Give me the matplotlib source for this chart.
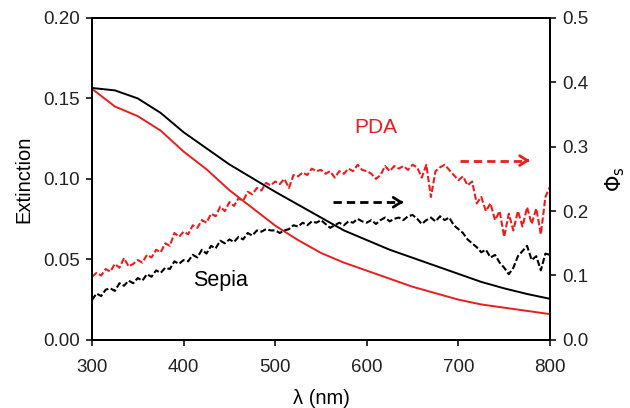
import numpy as np
import matplotlib
matplotlib.use("Agg")
import matplotlib.pyplot as plt

plt.rcParams["font.family"] = ["Liberation Sans", "DejaVu Sans"]

# Extinction spectra (left axis), 25 nm steps
WL_EXT = np.arange(300, 801, 25)
EXT_SEPIA = [0.1565, 0.155, 0.150, 0.141, 0.129, 0.119, 0.109, 0.1005, 0.092,
             0.084, 0.076, 0.068, 0.062, 0.056, 0.051, 0.046, 0.041, 0.036,
             0.032, 0.0285, 0.0255]
EXT_PDA = [0.156, 0.145, 0.139, 0.130, 0.117, 0.106, 0.093, 0.082, 0.071,
           0.062, 0.054, 0.048, 0.043, 0.038, 0.033, 0.029, 0.025, 0.022,
           0.020, 0.018, 0.016]

# Phi_s (right axis), 5 nm steps
WL_PHI = np.arange(300, 801, 5)
PHI_PDA = [
    0.098, 0.104, 0.100, 0.110, 0.106, 0.118, 0.112, 0.127, 0.114, 0.118,
    0.124, 0.120, 0.132, 0.128, 0.140, 0.136, 0.150, 0.146, 0.166, 0.160,
    0.168, 0.164, 0.178, 0.174, 0.186, 0.182, 0.196, 0.192, 0.207, 0.200,
    0.214, 0.208, 0.220, 0.216, 0.230, 0.226, 0.236, 0.232, 0.244, 0.240,
    0.246, 0.242, 0.250, 0.236, 0.256, 0.254, 0.260, 0.256, 0.266, 0.262,
    0.264, 0.258, 0.262, 0.252, 0.262, 0.258, 0.266, 0.262, 0.272, 0.264,
    0.262, 0.258, 0.250, 0.256, 0.270, 0.262, 0.270, 0.266, 0.270, 0.264,
    0.272, 0.268, 0.252, 0.272, 0.222, 0.262, 0.268, 0.272, 0.264, 0.256,
    0.248, 0.254, 0.240, 0.246, 0.212, 0.222, 0.200, 0.212, 0.186, 0.200,
    0.160, 0.196, 0.170, 0.200, 0.176, 0.206, 0.180, 0.204, 0.164, 0.222,
    0.238]
PHI_SEPIA = [
    0.062, 0.072, 0.068, 0.078, 0.080, 0.076, 0.088, 0.084, 0.092, 0.088,
    0.096, 0.092, 0.102, 0.098, 0.108, 0.104, 0.112, 0.110, 0.122, 0.118,
    0.124, 0.122, 0.132, 0.128, 0.140, 0.134, 0.146, 0.142, 0.154, 0.150,
    0.156, 0.152, 0.160, 0.156, 0.166, 0.162, 0.170, 0.168, 0.172, 0.170,
    0.170, 0.166, 0.170, 0.172, 0.178, 0.176, 0.182, 0.178, 0.184, 0.182,
    0.186, 0.180, 0.174, 0.178, 0.182, 0.178, 0.184, 0.182, 0.188, 0.184,
    0.182, 0.186, 0.180, 0.186, 0.190, 0.184, 0.188, 0.190, 0.186, 0.192,
    0.194, 0.188, 0.180, 0.186, 0.190, 0.184, 0.192, 0.186, 0.190, 0.178,
    0.172, 0.166, 0.156, 0.150, 0.144, 0.136, 0.140, 0.128, 0.132, 0.120,
    0.112, 0.102, 0.112, 0.130, 0.138, 0.146, 0.124, 0.130, 0.108, 0.134,
    0.132]

RED = "#ee1c1c"

fig = plt.figure(figsize=(6.3, 4.08), dpi=100)
ax = fig.add_axes([0.146, 0.167, 0.727, 0.789])
ax2 = ax.twinx()

ax.plot(WL_EXT, EXT_SEPIA, color="black", lw=1.4)
ax.plot(WL_EXT, EXT_PDA, color=RED, lw=1.4)
ax2.plot(WL_PHI, PHI_SEPIA, color="black", lw=1.5, dashes=(3, 1.2))
ax2.plot(WL_PHI, PHI_PDA, color=RED, lw=1.5, dashes=(3, 1.2))

ax.set_xlim(300, 800)
ax.set_ylim(0, 0.20)
ax2.set_ylim(0, 0.5)
ax.set_xticks(np.arange(300, 801, 100))
ax.set_yticks(np.arange(0, 0.201, 0.05))
ax.set_yticklabels([f"{v:.2f}" for v in np.arange(0, 0.201, 0.05)])
ax2.set_yticks(np.arange(0, 0.501, 0.1))
ax2.set_yticklabels([f"{v:.1f}" for v in np.arange(0, 0.501, 0.1)])

for a in (ax, ax2):
    a.tick_params(direction="out", length=4, width=1.3, labelsize=13.5,
                  colors="#222222", pad=4.5)
    for s in a.spines.values():
        s.set_linewidth(1.4)
ax.tick_params(axis="x", pad=10)

ax.set_xlabel(r"λ (nm)", fontsize=14.5, labelpad=9)
ax.set_ylabel("Extinction", fontsize=14.5, labelpad=7)
ax2.set_ylabel(r"$\Phi_{\rm s}$", fontsize=15, labelpad=11)

# dashed arrows pointing to the right axis
for x0, x1, y, c in ((563, 640, 0.0855, "black"), (702, 778, 0.1114, RED)):
    ax.plot([x0, x1 - 4], [y, y], color=c, lw=2, dashes=(3, 1.8))
    ax.annotate("", xy=(x1, y), xytext=(x1 - 6, y),
                arrowprops=dict(arrowstyle="->,head_length=0.55,head_width=0.35",
                                color=c, lw=2))

ax.text(610, 0.1317, "PDA", color=RED, fontsize=15, ha="center", va="center")
ax.text(440, 0.0366, "Sepia", color="black", fontsize=15.5, ha="center",
        va="center")

fig.savefig("out.png", dpi=100)
